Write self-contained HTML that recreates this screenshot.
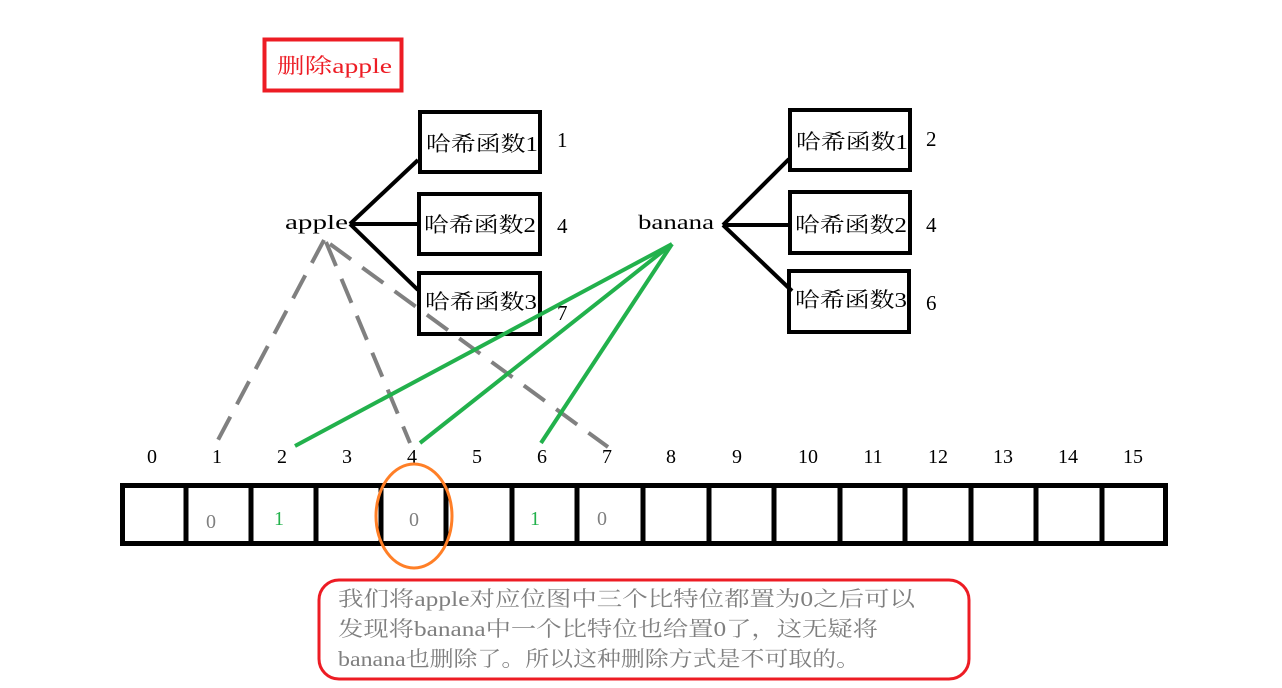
<!DOCTYPE html>
<html><head><meta charset="utf-8"><style>
html,body{margin:0;padding:0;background:#fff;}
svg{display:block;}
text{font-family:"Liberation Serif","Noto Serif CJK SC",serif;}
</style></head><body>
<svg width="1282" height="688" viewBox="0 0 1282 688" xmlns="http://www.w3.org/2000/svg">
<rect x="0" y="0" width="1282" height="688" fill="#fff"/>
<rect x="264.5" y="39.5" width="137" height="51" fill="none" stroke="#ed1c24" stroke-width="4"/>
<text x="277" y="73" font-size="21" fill="#ed1c24" textLength="115" lengthAdjust="spacingAndGlyphs">删除apple</text>

<text x="285" y="229" font-size="20" fill="#000" textLength="63" lengthAdjust="spacingAndGlyphs">apple</text>
<g stroke="#000" stroke-width="4" fill="none">
<line x1="350" y1="224" x2="418" y2="160"/>
<line x1="350" y1="224" x2="418" y2="224"/>
<line x1="350" y1="224" x2="418" y2="290"/>
<rect x="420" y="112" width="120" height="60"/>
<rect x="419" y="194" width="121" height="60"/>
<rect x="419" y="273" width="121" height="61"/>
<line x1="723" y1="225" x2="789" y2="159"/>
<line x1="723" y1="225" x2="792" y2="225"/>
<line x1="723" y1="225" x2="792" y2="291"/>
<rect x="790" y="110" width="120" height="60"/>
<rect x="790" y="192" width="120" height="61"/>
<rect x="789" y="271" width="120" height="61"/>
</g>
<g font-size="21" fill="#000">
<text x="426" y="151" textLength="112" lengthAdjust="spacingAndGlyphs">哈希函数1</text>
<text x="424" y="232" textLength="112" lengthAdjust="spacingAndGlyphs">哈希函数2</text>
<text x="425" y="309" textLength="112" lengthAdjust="spacingAndGlyphs">哈希函数3</text>
<text x="796" y="149" textLength="112" lengthAdjust="spacingAndGlyphs">哈希函数1</text>
<text x="795" y="232" textLength="112" lengthAdjust="spacingAndGlyphs">哈希函数2</text>
<text x="795" y="307" textLength="112" lengthAdjust="spacingAndGlyphs">哈希函数3</text>
<text x="557" y="147">1</text>
<text x="557" y="233">4</text>
<text x="557" y="320">7</text>
<text x="926" y="146">2</text>
<text x="926" y="232">4</text>
<text x="926" y="310">6</text>
</g>
<text x="638" y="229" font-size="20" fill="#000" textLength="76" lengthAdjust="spacingAndGlyphs">banana</text>

<g stroke="#808080" stroke-width="4" stroke-dasharray="26,14" fill="none">
<line x1="324" y1="240" x2="218" y2="440"/>
<line x1="326" y1="242" x2="410" y2="443"/>
<line x1="330" y1="244" x2="608" y2="447"/>
</g>
<g stroke="#22b14c" stroke-width="4" fill="none">
<line x1="672" y1="244" x2="295" y2="446"/>
<line x1="672" y1="244" x2="420" y2="443"/>
<line x1="672" y1="244" x2="541" y2="443"/>
</g>

<g font-size="20" fill="#000" text-anchor="middle">
<text x="152" y="463">0</text><text x="217" y="463">1</text><text x="282" y="463">2</text><text x="347" y="463">3</text>
<text x="412" y="463">4</text><text x="477" y="463">5</text><text x="542" y="463">6</text><text x="607" y="463">7</text>
<text x="671" y="463">8</text><text x="737" y="463">9</text><text x="808" y="463">10</text><text x="873" y="463">11</text>
<text x="938" y="463">12</text><text x="1003" y="463">13</text><text x="1068" y="463">14</text><text x="1133" y="463">15</text>
</g>

<g stroke="#000" stroke-width="5" fill="none">
<rect x="122.5" y="485.5" width="1043" height="58"/>
<line x1="186" y1="485" x2="186" y2="544"/>
<line x1="251" y1="485" x2="251" y2="544"/>
<line x1="316" y1="485" x2="316" y2="544"/>
<line x1="381" y1="485" x2="381" y2="544"/>
<line x1="446" y1="485" x2="446" y2="544"/>
<line x1="512" y1="485" x2="512" y2="544"/>
<line x1="577" y1="485" x2="577" y2="544"/>
<line x1="643" y1="485" x2="643" y2="544"/>
<line x1="709" y1="485" x2="709" y2="544"/>
<line x1="774" y1="485" x2="774" y2="544"/>
<line x1="840" y1="485" x2="840" y2="544"/>
<line x1="905" y1="485" x2="905" y2="544"/>
<line x1="971" y1="485" x2="971" y2="544"/>
<line x1="1036" y1="485" x2="1036" y2="544"/>
<line x1="1102" y1="485" x2="1102" y2="544"/>
</g>
<g font-size="20" text-anchor="middle">
<text x="211" y="528" fill="#808080">0</text>
<text x="279" y="525" fill="#22b14c">1</text>
<text x="414" y="526" fill="#808080">0</text>
<text x="535" y="525" fill="#22b14c">1</text>
<text x="602" y="525" fill="#808080">0</text>
</g>
<ellipse cx="414" cy="516" rx="38" ry="52" fill="none" stroke="#ff7f27" stroke-width="3"/>

<rect x="319" y="580" width="650" height="99" rx="20" ry="20" fill="none" stroke="#ed1c24" stroke-width="3"/>
<g font-size="21" fill="#7f7f7f" style="font-family:'Liberation Sans','Noto Sans CJK SC',sans-serif">
<text x="338" y="606" textLength="577" lengthAdjust="spacingAndGlyphs">我们将apple对应位图中三个比特位都置为0之后可以</text>
<text x="338" y="636" textLength="540" lengthAdjust="spacingAndGlyphs">发现将banana中一个比特位也给置0了，这无疑将</text>
<text x="338" y="666" textLength="522" lengthAdjust="spacingAndGlyphs">banana也删除了。所以这种删除方式是不可取的。</text>
</g>
</svg>
</body></html>
